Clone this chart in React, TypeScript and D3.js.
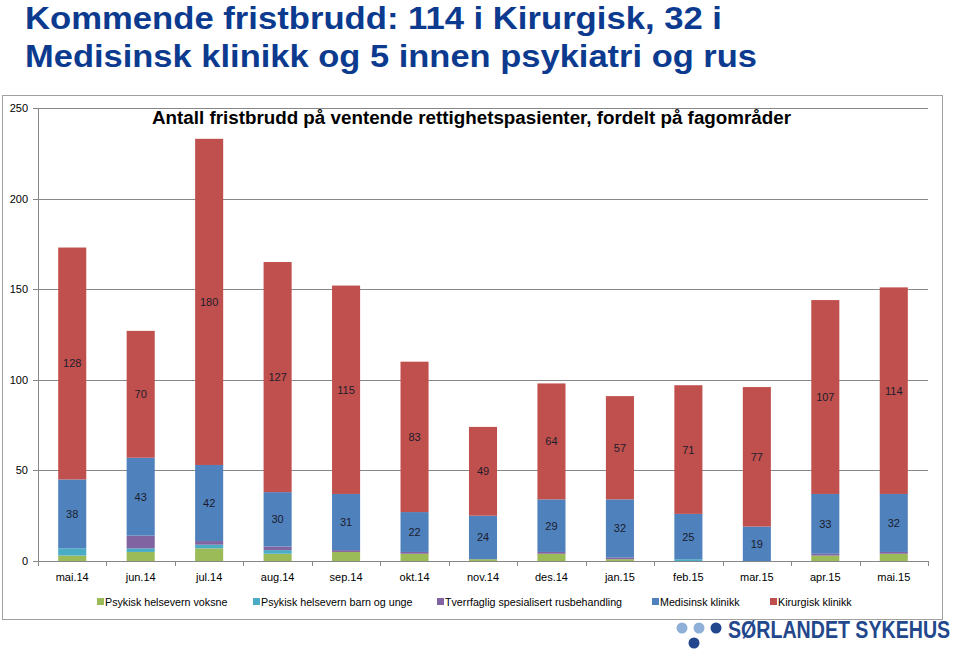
import React, { useLayoutEffect, useRef, useState } from "react";
import * as d3 from "d3";

const months = ["mai.14","jun.14","jul.14","aug.14","sep.14","okt.14","nov.14","des.14","jan.15","feb.15","mar.15","apr.15","mai.15"];
const voksne = [3,5,7,4,5,4,1,4,1,0,0,3,4];
const barnUnge = [4,2,2,2,0,0,0,0,0,1,0,0,0];
const rus = [0,7,2,2,1,1,0,1,1,0,0,1,1];
const medisinsk = [38,43,42,30,31,22,24,29,32,25,19,33,32];
const kirurgisk = [128,70,180,127,115,83,49,64,57,71,77,107,114];
const yTicks = [0,50,100,150,200,250];

const seriesNames = ["Psykisk helsevern voksne","Psykisk helsevern barn og unge","Tverrfaglig spesialisert rusbehandling","Medisinsk klinikk","Kirurgisk klinikk"];
const seriesData = [voksne, barnUnge, rus, medisinsk, kirurgisk];
const colors = ["#9BBB59","#4BACC6","#8064A2","#4F81BD","#C0504D"];
const labelled = [false,false,false,true,true];

const FONT = "'Liberation Sans', Arial, sans-serif";

export default function App() {
  const x = d3.scaleBand<string>().domain(months).range([38, 928]).paddingInner(0.59).paddingOuter(0.295);
  const y = d3.scaleLinear().domain([0, 250]).range([561, 108]);
  const table = months.map((m, i) => {
    const o: any = { month: m };
    seriesNames.forEach((s, k) => (o[s] = seriesData[k][i]));
    return o;
  });
  const stacked = d3.stack<any>().keys(seriesNames)(table);
  const step = x.step();
  const legendX = [97, 253, 437, 652, 770];

  const logoRef = useRef<SVGTextElement>(null);
  const [logoScale, setLogoScale] = useState(0.8);
  useLayoutEffect(() => {
    if (logoRef.current) {
      const w = logoRef.current.getComputedTextLength();
      if (w > 0) setLogoScale(222 / w);
    }
  }, []);

  return (
    <svg width={960} height={651} style={{ position: "absolute", left: 0, top: 0, background: "#fff" }} fontFamily={FONT}>
      <rect x={0} y={0} width={960} height={651} fill="#fff" />
      <g fontWeight="bold" fill="#0B3A8F" fontSize={32}>
        <text x={25} y={29} textLength={697} lengthAdjust="spacingAndGlyphs">Kommende fristbrudd: 114 i Kirurgisk, 32 i</text>
        <text x={25} y={67} textLength={732} lengthAdjust="spacingAndGlyphs">Medisinsk klinikk og 5 innen psykiatri og rus</text>
      </g>
      {/* logo dots */}
      <g>
        <circle cx={682} cy={628} r={5.5} fill="#8EB0D8" />
        <circle cx={699} cy={628} r={5.5} fill="#8EB0D8" />
        <circle cx={716} cy={628} r={5.5} fill="#23478C" />
        <circle cx={694} cy={643} r={5.5} fill="#23478C" />
      </g>
      {/* chart frame */}
      <rect x={2.5} y={95.5} width={940} height={524} fill="#fff" stroke="#A0A0A0" strokeWidth={1} />
      <g transform={`translate(728,638) scale(${logoScale},1)`}>
        <text ref={logoRef} x={0} y={0} fontSize={24} fill="#23478C" fontWeight="bold">SØRLANDET SYKEHUS</text>
      </g>
      <text x={152} y={124} fontWeight="bold" fontSize={18} fill="#000" textLength={639} lengthAdjust="spacingAndGlyphs">
        Antall fristbrudd på ventende rettighetspasienter, fordelt på fagområder
      </text>
      {/* grid */}
      {yTicks.map((t) => (
        <g key={t}>
          {t > 0 && <line x1={38} x2={928} y1={Math.round(y(t)) + 0.5} y2={Math.round(y(t)) + 0.5} stroke="#878787" strokeWidth={1} />}
          <line x1={33} x2={38} y1={Math.round(y(t)) + 0.5} y2={Math.round(y(t)) + 0.5} stroke="#878787" />
          <text x={28} y={y(t) + 4} textAnchor="end" fontSize={11} fill="#000">{t}</text>
        </g>
      ))}
      <line x1={38.5} x2={38.5} y1={y(250)} y2={y(0)} stroke="#878787" />
      {/* bars */}
      {stacked.map((layer, k) => (
        <g key={layer.key} fill={colors[k]}>
          {layer.map((d, i) => (
            <rect key={i} x={x(months[i])} width={x.bandwidth()} y={y(d[1])} height={Math.max(0, y(d[0]) - y(d[1]))} />
          ))}
        </g>
      ))}
      {stacked.map((layer, k) =>
        labelled[k] ? (
          <g key={"l" + k} fontSize={11} fill="#1c1c2c" textAnchor="middle">
            {layer.map((d, i) => (
              <text key={i} x={(x(months[i]) as number) + x.bandwidth() / 2} y={(y(d[0]) + y(d[1])) / 2 + 4}>
                {seriesData[k][i]}
              </text>
            ))}
          </g>
        ) : null
      )}
      {/* x axis */}
      <line x1={38} x2={928} y1={561.5} y2={561.5} stroke="#878787" />
      {d3.range(months.length + 1).map((i) => (
        <line key={i} x1={38.5 + Math.round(i * step)} x2={38.5 + Math.round(i * step)} y1={561} y2={566} stroke="#878787" />
      ))}
      {months.map((m) => (
        <text key={m} x={(x(m) as number) + x.bandwidth() / 2} y={581} textAnchor="middle" fontSize={11} fill="#000">{m}</text>
      ))}
      {/* legend */}
      {seriesNames.map((s, k) => (
        <g key={s}>
          <rect x={legendX[k]} y={598} width={7} height={7} fill={colors[k]} />
          <text x={legendX[k] + 8} y={605.5} fontSize={10.7} fill="#000">{s}</text>
        </g>
      ))}
    </svg>
  );
}
